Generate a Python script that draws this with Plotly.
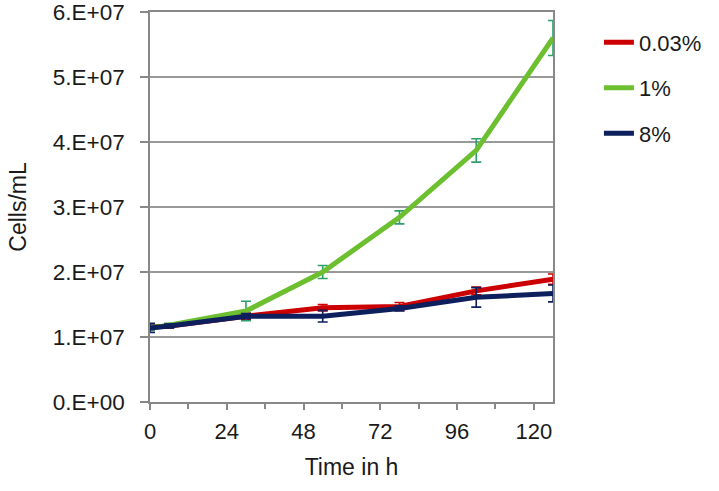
import plotly.graph_objects as go

hours = [0, 6, 30, 54, 78, 102, 126]

series_names = ["0.03%", "1%", "8%"]
red_vals = [1.15e7, 1.17e7, 1.32e7, 1.45e7, 1.47e7, 1.71e7, 1.89e7]
red_err = [0.05e7, 0.03e7, 0.05e7, 0.05e7, 0.06e7, 0.06e7, 0.08e7]
green_vals = [1.14e7, 1.18e7, 1.40e7, 2.00e7, 2.84e7, 3.87e7, 5.60e7]
green_err = [0.04e7, 0.03e7, 0.15e7, 0.10e7, 0.10e7, 0.18e7, 0.27e7]
navy_vals = [1.14e7, 1.17e7, 1.32e7, 1.32e7, 1.44e7, 1.61e7, 1.67e7]
navy_err = [0.07e7, 0.03e7, 0.04e7, 0.09e7, 0.04e7, 0.15e7, 0.13e7]

y_tickvals = [0, 1e7, 2e7, 3e7, 4e7, 5e7, 6e7]
y_ticktext = ["0.E+00", "1.E+07", "2.E+07", "3.E+07", "4.E+07", "5.E+07", "6.E+07"]
x_tickvals = [0, 24, 48, 72, 96, 120]

line_colors = ["#CC0000", "#6CBF2F", "#0D1F5C"]
err_colors = ["#CC0000", "#2E9E6A", "#0D1F5C"]
vals = [red_vals, green_vals, navy_vals]
errs = [red_err, green_err, navy_err]

FONT = "Liberation Sans, Arial, sans-serif"

fig = go.Figure()
for i, name in enumerate(series_names):
    fig.add_trace(go.Scatter(
        x=hours, y=vals[i], name=name, mode="lines",
        line=dict(color=line_colors[i], width=5),
        error_y=dict(type="data", array=errs[i], visible=True,
                     color=err_colors[i], thickness=1.6, width=5),
        legendgroup=name,
    ))

fig.update_layout(
    width=719, height=491,
    margin=dict(l=150, r=166, t=12, b=89),
    paper_bgcolor="white", plot_bgcolor="white",
    font=dict(family=FONT, size=22, color="#1a1a1a"),
    showlegend=True,
    legend=dict(x=1.114, y=0.976, xanchor="left", yanchor="top",
                font=dict(size=22), tracegroupgap=14,
                traceorder="grouped", bgcolor="rgba(0,0,0,0)",
                itemwidth=30),
    xaxis=dict(
        range=[0, 126], tickvals=x_tickvals, automargin=False,
        showgrid=False, zeroline=False,
        showline=True, linecolor="#888888", linewidth=1.5, mirror=True,
        ticks="outside", ticklen=6, tickcolor="#888888", tickwidth=1.5,
        minor=dict(dtick=12, tick0=0, ticks="outside", ticklen=5,
                   tickcolor="#888888", tickwidth=1.5),
        tickfont=dict(size=22), ticklabeloverflow="allow",
        ticklabelstandoff=3,
        title=dict(text="Time in h", font=dict(size=23), standoff=16),
    ),
    yaxis=dict(
        range=[0, 6e7], tickvals=y_tickvals, ticktext=y_ticktext,
        automargin=False,
        showgrid=True, gridcolor="#999999", gridwidth=1.5, zeroline=False,
        showline=True, linecolor="#888888", linewidth=1.5, mirror=True,
        ticks="outside", ticklen=8, tickcolor="#888888", tickwidth=1.5,
        tickfont=dict(size=22.5), ticklabeloverflow="allow",
        ticklabelstandoff=11,
        title=dict(text="Cells/mL", font=dict(size=23), standoff=20),
    ),
)

fig.write_html("out.html", config={"displayModeBar": False},
               post_script="document.body.style.margin='0';")
